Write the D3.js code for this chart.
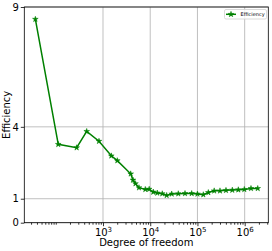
<!DOCTYPE html>
<html>
<head>
<meta charset="utf-8">
<script src="https://cdn.jsdelivr.net/npm/d3@7"></script>
<style>
  body { margin: 0; background: #fff; }
  svg text { font-family: "DejaVu Sans", sans-serif; }
</style>
</head>
<body>
<div id="chart"></div>
<script>
// degrees of freedom and efficiency
var dof = [37, 113, 277, 452, 823, 1500, 2010, 3860, 4315, 4875, 5780, 7870, 9510,
  11600, 14100, 18000, 22300, 28500, 39300, 54500, 75500, 100000, 133000, 170000,
  226000, 300000, 402000, 547000, 733000, 982000, 1360000, 1890000];
var efficiency = [8.49, 3.27, 3.13, 3.81, 3.40, 2.79, 2.59, 2.04, 1.78, 1.63, 1.46, 1.39, 1.40,
  1.28, 1.24, 1.21, 1.14, 1.20, 1.21, 1.22, 1.22, 1.20, 1.17, 1.26,
  1.33, 1.33, 1.35, 1.36, 1.375, 1.39, 1.43, 1.43];
var yTicks = [0, 1, 4, 9];
var xTicks = [1e3, 1e4, 1e5, 1e6];
var seriesName = "Efficiency";

var width = 272, height = 251;
var pLeft = 24.3, pRight = 268.3, pTop = 7, pBottom = 222.7;

var svg = d3.select("#chart").append("svg")
    .attr("width", width)
    .attr("height", height);

var x = d3.scaleLog().domain([Math.pow(10, 1.334), Math.pow(10, 6.5)]).range([pLeft, pRight]);
var y = d3.scaleLinear().domain([0, 9]).range([pBottom, pTop]);

// minor ticks
var minor = [];
for (var e = 1; e <= 6; e++) {
    for (var k = 1; k <= 9; k++) {
        var v = k * Math.pow(10, e);
        if (v >= x.domain()[0] && v <= x.domain()[1] && xTicks.indexOf(v) < 0) minor.push(v);
    }
}

// grid
svg.append("g").selectAll("line").data(xTicks).enter().append("line")
    .attr("x1", d => x(d)).attr("x2", d => x(d))
    .attr("y1", pTop).attr("y2", pBottom)
    .attr("stroke", "#b0b0b0").attr("stroke-width", 0.8);
svg.append("g").selectAll("line").data(yTicks).enter().append("line")
    .attr("x1", pLeft).attr("x2", pRight)
    .attr("y1", d => y(d)).attr("y2", d => y(d))
    .attr("stroke", "#b0b0b0").attr("stroke-width", 0.8);

// axes
var xAxis = svg.append("g").attr("transform", "translate(0," + pBottom + ")")
    .call(d3.axisBottom(x).tickValues(xTicks).tickSize(3.5).tickFormat(""));
var xMinor = svg.append("g").attr("transform", "translate(0," + pBottom + ")")
    .call(d3.axisBottom(x).tickValues(minor).tickSize(2).tickFormat(""));
var yAxis = svg.append("g").attr("transform", "translate(" + pLeft + ",0)")
    .call(d3.axisLeft(y).tickValues(yTicks).tickSize(3.5).tickFormat(d3.format("d")));
[xAxis, xMinor, yAxis].forEach(function (g) {
    g.select(".domain").remove();
    g.selectAll(".tick line").attr("stroke", "#000").attr("stroke-width", 0.8);
});
yAxis.selectAll(".tick text").attr("font-size", 10).attr("fill", "#000").attr("x", -5.5);

// x labels with superscript
xAxis.selectAll(".tick").append("text")
    .attr("y", 13).attr("text-anchor", "middle").attr("fill", "#000")
    .attr("font-size", 10)
    .each(function (d) {
        var t = d3.select(this);
        t.append("tspan").text("10");
        t.append("tspan").attr("dy", -4).attr("font-size", 7).text(Math.round(Math.log10(d)));
    });

// frame
svg.append("rect").attr("x", pLeft).attr("y", pTop)
    .attr("width", pRight - pLeft).attr("height", pBottom - pTop)
    .attr("fill", "none").attr("stroke", "#000").attr("stroke-width", 0.8);

// series
var pts = dof.map(function (d, i) { return [d, efficiency[i]]; });
var line = d3.line().x(d => x(d[0])).y(d => y(d[1]));
svg.append("path").datum(pts)
    .attr("d", line).attr("fill", "none")
    .attr("stroke", "#008000").attr("stroke-width", 1.5);
var star = d3.symbol().type(d3.symbolStar).size(10);
svg.append("g").selectAll("path").data(pts).enter().append("path")
    .attr("d", star)
    .attr("transform", d => "translate(" + x(d[0]) + "," + y(d[1]) + ")")
    .attr("fill", "#008000").attr("stroke", "#008000").attr("stroke-width", 0.5);

// axis titles
svg.append("text").attr("x", (pLeft + pRight) / 2).attr("y", 246)
    .attr("text-anchor", "middle").attr("font-size", 10).text("Degree of freedom");
svg.append("text")
    .attr("transform", "translate(10," + ((pTop + pBottom) / 2) + ") rotate(-90)")
    .attr("text-anchor", "middle").attr("font-size", 10).text("Efficiency");

// legend
var lg = svg.append("g").attr("transform", "translate(224.5,9.5)");
lg.append("rect").attr("width", 42).attr("height", 9.5).attr("rx", 1.5)
    .attr("fill", "#fff").attr("fill-opacity", 0.8)
    .attr("stroke", "#d0d0d0").attr("stroke-width", 0.8);
lg.append("line").attr("x1", 1.5).attr("x2", 11.5).attr("y1", 4.8).attr("y2", 4.8)
    .attr("stroke", "#008000").attr("stroke-width", 1.5);
lg.append("path").attr("d", star).attr("transform", "translate(6.5,4.8)")
    .attr("fill", "#008000").attr("stroke", "#008000").attr("stroke-width", 0.5);
lg.append("text").attr("x", 16).attr("y", 6.7).attr("font-size", 5).text(seriesName);
</script>
</body>
</html>
